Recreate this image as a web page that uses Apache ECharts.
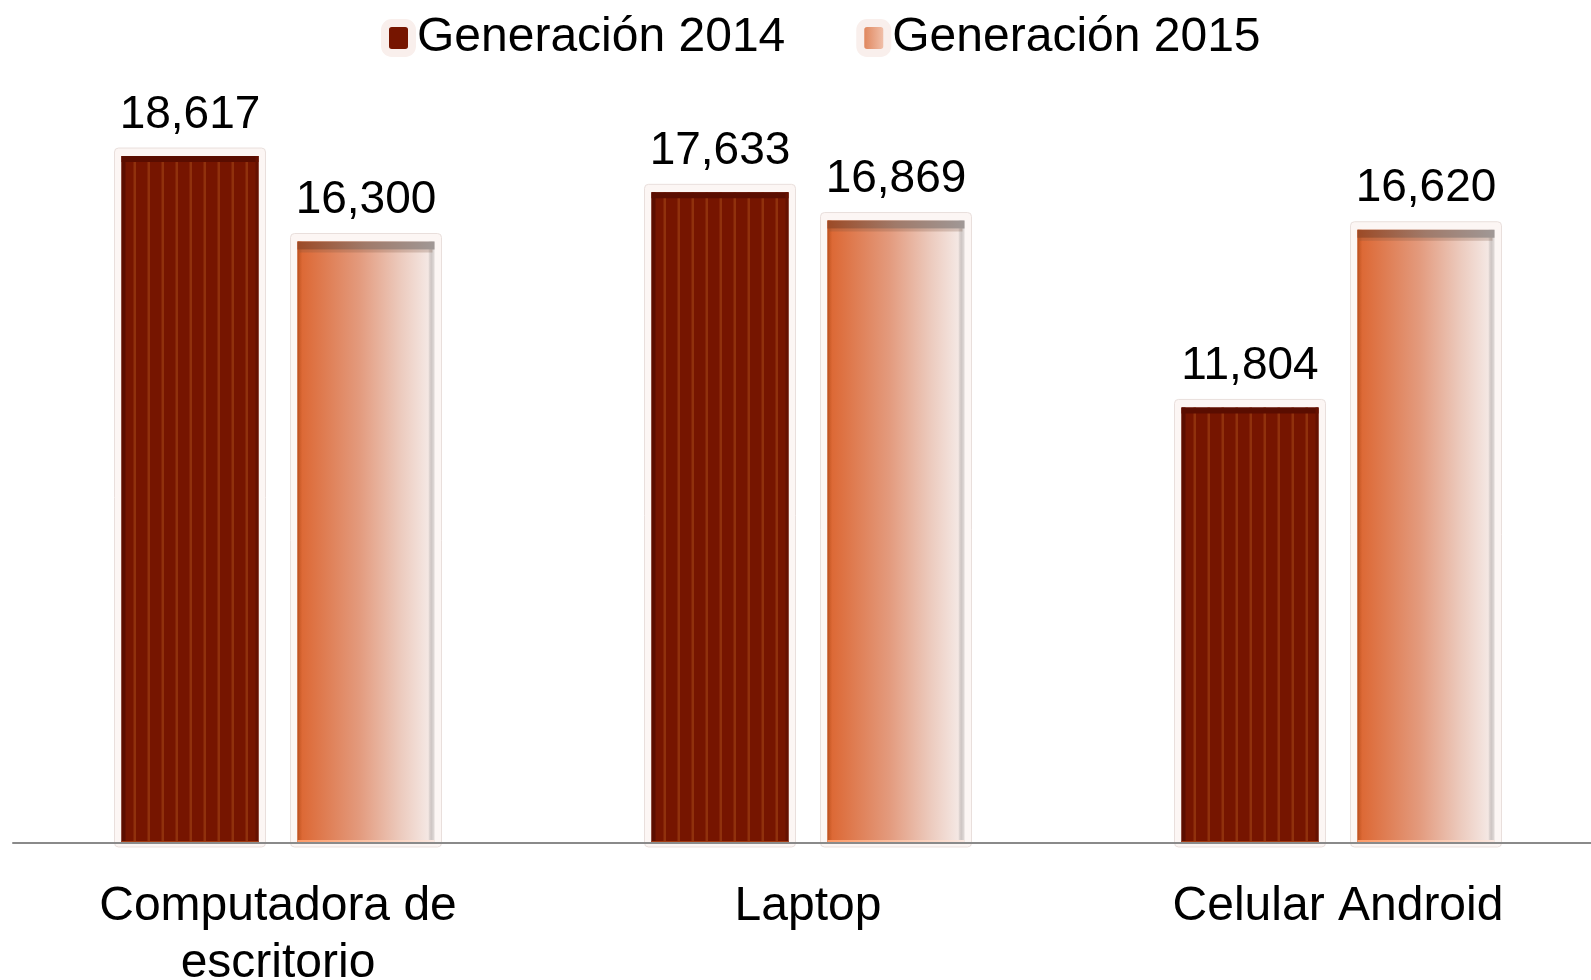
<!DOCTYPE html>
<html>
<head>
<meta charset="utf-8">
<script src="https://cdn.jsdelivr.net/npm/echarts@6/dist/echarts.min.js"></script>
<style>
html,body{margin:0;padding:0;background:#fff;}
#chart{width:1591px;height:980px;}
</style>
</head>
<body>
<div id="chart"></div>
<script>
const categories = ['Computadora de\nescritorio', 'Laptop', 'Celular Android'];
const gen2014 = [18617, 17633, 11804];
const gen2015 = [16300, 16869, 16620];
const seriesNames = ['Generación 2014', 'Generación 2015'];

const FONT = "'Liberation Sans', Arial, sans-serif";

function fmt(v) { return Number(v).toLocaleString('en-US'); }

function makeRender(s) {
  return function (params, api) {
    const idx = api.value(0);
    const val = api.value(1);
    const base = api.coord([idx, 0]);
    const top = api.coord([idx, val]);
    const catW = api.size([1, 0])[0];
    const k = catW / 530;
    const w = 137 * k;
    const cx = base[0] + (s === 0 ? -88 : 88) * k;
    const x = cx - w / 2;
    const y = top[1];
    const h = base[1] - top[1];
    const ch = [];
    // outer frame
    ch.push({type: 'rect', shape: {x: x - 7, y: y - 8, width: w + 14, height: h + 12, r: 4},
      style: {fill: '#fcf6f4', stroke: '#e9dfdc', lineWidth: 1}});
    if (s === 0) {
      ch.push({type: 'rect', shape: {x: x, y: y, width: w, height: h}, style: {fill: '#761500'}});
      for (let i = 0; i < 9; i++) {
        const sx = x + 12 + i * 14;
        if (sx + 2 < x + w - 3) {
          ch.push({type: 'rect', shape: {x: sx, y: y, width: 2.5, height: h}, style: {fill: '#93340d', opacity: 0.9}});
        }
      }
      ch.push({type: 'rect', shape: {x: x, y: y, width: 4, height: h}, style: {fill: '#5c0e00'}});
      ch.push({type: 'rect', shape: {x: x, y: y, width: w, height: 6}, style: {fill: '#5a0d00'}});
      ch.push({type: 'rect', shape: {x: x + w - 3, y: y, width: 3, height: h}, style: {fill: '#651000'}});
      ch.push({type: 'rect', shape: {x: x, y: y + h - 2, width: w, height: 2}, style: {fill: '#a33a12'}});
    } else {
      ch.push({type: 'rect', shape: {x: x, y: y, width: w, height: h},
        style: {fill: new echarts.graphic.LinearGradient(0, 0, 1, 0, [
          {offset: 0, color: '#dc6530'},
          {offset: 0.45, color: '#e39a7d'},
          {offset: 0.75, color: '#eccabd'},
          {offset: 1, color: '#f6eeec'}])}});
      ch.push({type: 'rect', shape: {x: x, y: y, width: 5, height: h},
        style: {fill: new echarts.graphic.LinearGradient(0, 0, 1, 0, [
          {offset: 0, color: '#b84e1c'}, {offset: 1, color: 'rgba(200,90,40,0)'}])}});
      ch.push({type: 'rect', shape: {x: x + w - 6, y: y, width: 6, height: h},
        style: {fill: new echarts.graphic.LinearGradient(0, 0, 1, 0, [
          {offset: 0, color: 'rgba(190,180,178,0.2)'}, {offset: 0.5, color: '#cfc7c5'}, {offset: 1, color: '#e2dcda'}])}});
      ch.push({type: 'rect', shape: {x: x, y: y, width: w, height: 8},
        style: {fill: new echarts.graphic.LinearGradient(0, 0, 1, 0, [
          {offset: 0, color: '#9c4a26'}, {offset: 0.5, color: '#a07a6a'}, {offset: 1, color: '#a09896'}])}});
      ch.push({type: 'rect', shape: {x: x + 2, y: y + 8, width: w - 4, height: 3},
        style: {fill: 'rgba(120,80,60,0.25)'}});
      ch.push({type: 'rect', shape: {x: x, y: y + h - 3, width: w, height: 3},
        style: {fill: new echarts.graphic.LinearGradient(0, 0, 1, 0, [
          {offset: 0, color: '#ff9a66'}, {offset: 1, color: '#fbe9e2'}])}});
    }
    ch.push({type: 'text', x: cx, y: y - 41,
      style: {text: fmt(val), fill: '#000', font: '46px ' + FONT, align: 'center', verticalAlign: 'middle'}});
    return {type: 'group', children: ch};
  };
}

const chart = echarts.init(document.getElementById('chart'), null, {renderer: 'canvas'});
chart.setOption({
  backgroundColor: '#ffffff',
  animation: false,
  legend: {
    left: 376,
    top: 9,
    itemWidth: 27,
    itemHeight: 30,
    itemGap: 71,
    icon: 'roundRect',
    textStyle: {fontFamily: FONT, fontSize: 48, lineHeight: 48, color: '#000'},
    data: [
      {name: seriesNames[0], itemStyle: {color: '#761500', borderColor: '#f9efec', borderWidth: 8}},
      {name: seriesNames[1], itemStyle: {color: new echarts.graphic.LinearGradient(0, 0, 1, 0, [
        {offset: 0, color: '#d9703f'}, {offset: 1, color: '#f7d6c8'}]), borderColor: '#f9efec', borderWidth: 8}}
    ]
  },
  grid: {left: 13, top: 105, width: 1590, height: 738, containLabel: false, outerBoundsMode: 'none'},
  xAxis: {
    type: 'category',
    data: categories,
    z: 10,
    axisLine: {show: true, lineStyle: {color: '#8a8a8a', width: 2}},
    axisTick: {show: false},
    axisLabel: {fontFamily: FONT, fontSize: 48, lineHeight: 57, color: '#000', margin: 35, interval: 0}
  },
  yAxis: {
    type: 'value', min: 0, max: 20000,
    show: false,
    splitLine: {show: false}
  },
  series: [
    {name: seriesNames[0], type: 'custom', z: 2, renderItem: makeRender(0),
     itemStyle: {color: '#761500'},
     data: gen2014.map((v, i) => [i, v])},
    {name: seriesNames[1], type: 'custom', z: 2, renderItem: makeRender(1),
     itemStyle: {color: '#e07a4a'},
     data: gen2015.map((v, i) => [i, v])}
  ]
});
</script>
</body>
</html>
